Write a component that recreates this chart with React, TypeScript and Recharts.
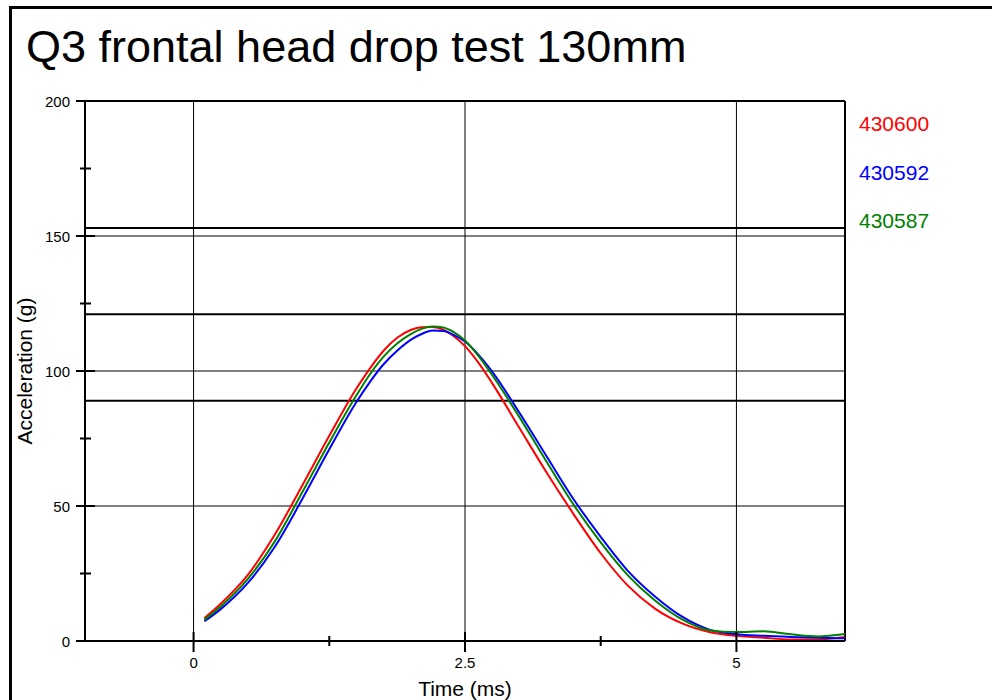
import React from 'react';
import { LineChart, Line, XAxis, YAxis, ReferenceLine, Label } from 'recharts';

const FONT = '"Liberation Sans", Arial, Helvetica, sans-serif';

// Time (ms)
const TIME = [0.1, 0.25, 0.5, 0.75, 1.0, 1.25, 1.5, 1.625, 1.75, 1.875, 2.0, 2.1, 2.2, 2.3, 2.4, 2.5, 2.625, 2.75, 3.0, 3.25, 3.5, 3.75, 4.0, 4.25, 4.5, 4.75, 5.0, 5.25, 5.5, 5.75, 6.0];
// Acceleration (g)
const ACC_430600 = [8.5, 13.8, 24.5, 39.5, 57.5, 76, 93.5, 101, 107.5, 112.3, 115.2, 116.2, 116.3, 115.3, 112.8, 109.2, 103, 95.5, 79, 62.5, 47, 32.5, 20.5, 12, 6.5, 3.3, 1.9, 1.2, 0.6, 0.6, 1.5];
const ACC_430592 = [7.3, 11.8, 21.5, 35, 52.5, 71, 88.5, 96, 102.5, 107.5, 111.5, 113.7, 115, 114.8, 113.3, 110.9, 106, 99.8, 84.6, 68.5, 52.5, 38.6, 26, 16.5, 9, 4.2, 2.5, 1.9, 1.5, 1.2, 1.0];
const ACC_430587 = [7.9, 12.8, 23, 37, 55, 73.5, 91, 98.8, 105.3, 110.2, 113.7, 115.6, 116.5, 116.1, 114.3, 111.3, 105.5, 98.5, 83, 66.5, 50.5, 36.5, 24.3, 15, 8, 4, 3.3, 3.6, 2.5, 1.7, 2.6];

const SERIES_NAMES = ['430600', '430592', '430587'];
const SERIES_COLORS = ['#ff0000', '#0000ff', '#008000'];
const SERIES_VALUES = [ACC_430600, ACC_430592, ACC_430587];

const X_TICKS = [0, 1.25, 2.5, 3.75, 5];
const X_MAJOR = [0, 2.5, 5];
const Y_TICKS = [0, 25, 50, 75, 100, 125, 150, 175, 200];
const Y_GRID = [50, 100, 150];
const LIMITS = [153, 121, 89];

const TITLE = 'Q3 frontal head drop test 130mm';
const X_LABEL = 'Time (ms)';
const Y_LABEL = 'Acceleration (g)';

const seriesData = SERIES_VALUES.map((vals) => TIME.map((t, i) => ({ t, a: vals[i] })));

const TICK_SIZE = 9;
const TICK_MARGIN = 6;

const YTick = (props: any) => {
  const { x, y, payload } = props;
  const v = payload.value;
  const major = v % 50 === 0;
  const ax = x + TICK_SIZE + TICK_MARGIN;
  return (
    <g>
      <line x1={major ? ax - 9 : ax - 5} x2={major ? ax + 10 : ax + 6} y1={y} y2={y} stroke="#000" strokeWidth={2} />
      {major && (
        <text x={x} y={y} dy={5.5} textAnchor="end" fontFamily={FONT} fontSize={15} fill="#000">
          {v}
        </text>
      )}
    </g>
  );
};

const XTick = (props: any) => {
  const { x, y, payload } = props;
  const v = payload.value;
  const major = X_MAJOR.includes(v);
  const ay = y - TICK_SIZE - TICK_MARGIN;
  return (
    <g>
      <line x1={x} x2={x} y1={major ? ay - 9 : ay - 5} y2={major ? ay + 11 : ay + 5} stroke="#000" strokeWidth={2} />
      {major && (
        <text x={x} y={y} dy={12} textAnchor="middle" fontFamily={FONT} fontSize={15} fill="#000">
          {v}
        </text>
      )}
    </g>
  );
};

const YLabelContent = (props: any) => {
  const vb = props.viewBox || {};
  const cx = vb.x + 14;
  const cy = vb.y + vb.height / 2;
  return (
    <text x={cx} y={cy} transform={`rotate(-90 ${cx} ${cy})`} textAnchor="middle" dominantBaseline="central" fontFamily={FONT} fontSize={21} fill="#000">
      {Y_LABEL}
    </text>
  );
};

const XLabelContent = (props: any) => {
  const vb = props.viewBox || {};
  const cx = vb.x + vb.width / 2;
  const cy = vb.y + 47;
  return (
    <text x={cx} y={cy} textAnchor="middle" dominantBaseline="central" fontFamily={FONT} fontSize={21} fill="#000">
      {X_LABEL}
    </text>
  );
};

export default function App() {
  return (
    <div style={{ position: 'absolute', left: 0, top: 0, width: 992, height: 700, background: '#fff', overflow: 'hidden' }}>
      <div style={{ position: 'absolute', left: 9, top: 6, width: 1000, height: 720, borderLeft: '3px solid #000', borderTop: '3px solid #000', boxSizing: 'border-box' }} />
      <LineChart width={992} height={700} margin={{ top: 101, right: 147, bottom: 0, left: 10 }}>
        <XAxis
          type="number"
          dataKey="t"
          domain={[-1, 6]}
          ticks={X_TICKS}
          tick={<XTick />}
          tickLine={false}
          tickSize={TICK_SIZE}
          tickMargin={TICK_MARGIN}
          axisLine={{ stroke: '#000', strokeWidth: 2 }}
          height={59}
          interval={0}
          allowDuplicatedCategory={false}
        >
          <Label content={<XLabelContent />} />
        </XAxis>
        <YAxis
          type="number"
          domain={[0, 200]}
          ticks={Y_TICKS}
          tick={<YTick />}
          tickLine={false}
          tickSize={TICK_SIZE}
          tickMargin={TICK_MARGIN}
          axisLine={{ stroke: '#000', strokeWidth: 2 }}
          width={75}
          interval={0}
        >
          <Label content={<YLabelContent />} />
        </YAxis>
        {X_MAJOR.map((v) => (
          <ReferenceLine key={'gx' + v} x={v} stroke="#000" strokeWidth={1} />
        ))}
        {Y_GRID.map((v) => (
          <ReferenceLine key={'gy' + v} y={v} stroke="#000" strokeWidth={1} />
        ))}
        {LIMITS.map((v) => (
          <ReferenceLine key={'lim' + v} y={v} stroke="#000" strokeWidth={2} />
        ))}
        <ReferenceLine y={200} stroke="#000" strokeWidth={2} />
        <ReferenceLine x={6} stroke="#000" strokeWidth={2} />
        {seriesData.map((d, i) => (
          <Line
            key={SERIES_NAMES[i]}
            data={d}
            dataKey="a"
            name={SERIES_NAMES[i]}
            type="monotone"
            stroke={SERIES_COLORS[i]}
            strokeWidth={2}
            dot={false}
            activeDot={false}
            isAnimationActive={false}
          />
        ))}
      </LineChart>
      <svg width={992} height={700} style={{ position: 'absolute', left: 0, top: 0, pointerEvents: 'none' }}>
        <text x={26} y={62} fontFamily={FONT} fontSize={45} fill="#000">
          {TITLE}
        </text>
        {SERIES_NAMES.map((n, i) => (
          <text key={n} x={859} y={131 + i * 48.5} fontFamily={FONT} fontSize={21} fill={SERIES_COLORS[i]}>
            {n}
          </text>
        ))}
      </svg>
    </div>
  );
}
